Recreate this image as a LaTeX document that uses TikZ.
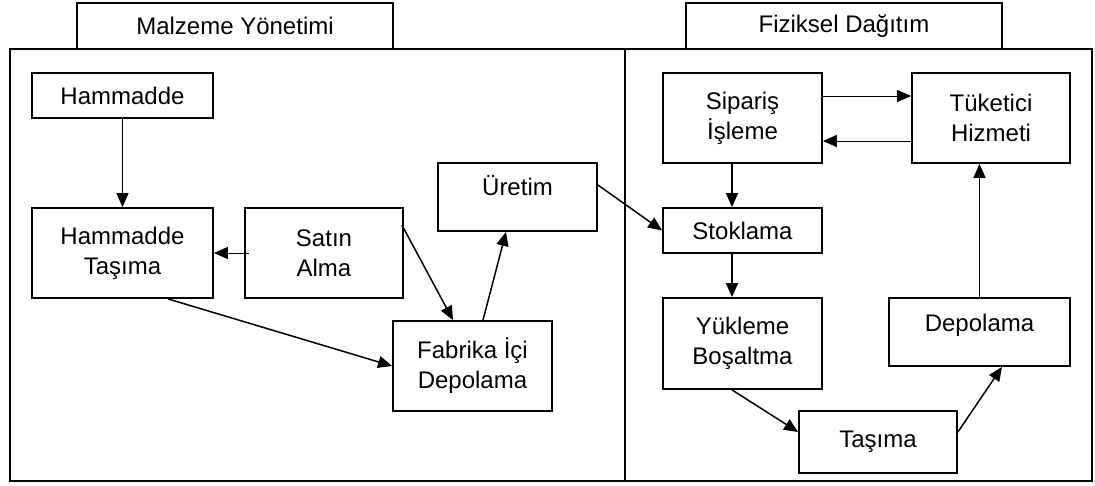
\documentclass[tikz,border=0pt]{standalone}
\usepackage{fontspec}
\setmainfont{Liberation Sans}
\usetikzlibrary{arrows.meta}
\begin{document}
\begin{tikzpicture}[x=1pt,y=-1pt,
  box/.style={draw, line width=1.8pt, rectangle, inner sep=0pt, align=center,
    font=\fontsize{24}{30}\selectfont},
  uptext/.style={text height=17pt, text depth=#1},
  flow/.style={line width=1.5pt, -{Triangle[length=14pt,width=12pt]}},
  thinflow/.style={line width=0.9pt, -{Triangle[length=14pt,width=12pt]}},
]
\useasboundingbox (0,0) rectangle (1095,485);

% frame and the divider between the two areas
\draw[line width=2pt] (10,49) rectangle (1092,481);
\draw[line width=2pt] (625,49) -- (625,481);

% area titles
\node[box, minimum width=316, minimum height=46] (t1) at (235,26) {Malzeme Yönetimi};
\node[box, minimum width=316, minimum height=46] (t2) at (844,26) {Fiziksel Dağıtım};

% material management
\node[box, minimum width=181, minimum height=45] (ham) at (122.5,95.5) {Hammadde};
\node[box, minimum width=181, minimum height=90] (ht)  at (122.5,253) {Hammadde\\Taşıma};
\node[box, minimum width=158, minimum height=90] (sat) at (324,253) {Satın\\Alma};
\node[box, minimum width=159, minimum height=68, uptext=20pt] (ure) at (517.5,197) {Üretim};
\node[box, minimum width=159, minimum height=90] (fab) at (472.5,366) {Fabrika İçi\\Depolama};

% physical distribution
\node[box, minimum width=159, minimum height=90] (sip) at (742.5,118) {Sipariş\\İşleme};
\node[box, minimum width=158, minimum height=90] (tuk) at (991,118) {Tüketici\\Hizmeti};
\node[box, minimum width=159, minimum height=45] (sto) at (742.5,230.5) {Stoklama};
\node[box, minimum width=159, minimum height=91] (yuk) at (742.5,343.5) {Yükleme\\Boşaltma};
\node[box, minimum width=181, minimum height=68, uptext=18pt] (dep) at (979.5,332) {Depolama};
\node[box, minimum width=158, minimum height=62] (tas) at (878,442) {Taşıma};

% connectors
\draw[thinflow] (ham.south) -- (ht.north);
\draw[thinflow] ([xshift=5pt]sat.west) -- (ht.east);
\draw[flow] ([xshift=-2pt,yshift=28pt]sat.east) -- ([xshift=-19.5pt]fab.north);
\draw[flow] ([xshift=10.5pt]fab.north) -- ([xshift=-11.5pt]ure.south);
\draw[flow] ([xshift=45.5pt]ht.south) -- (fab.west);
\draw[flow] ([yshift=12pt]ure.east) -- (sto.west);

\draw[thinflow] ([yshift=22pt]sip.east) -- ([yshift=22pt]tuk.west);
\draw[thinflow] ([yshift=-23pt]tuk.west) -- ([yshift=-23pt]sip.east);
\draw[flow] ([xshift=-10.5pt]sip.south) -- ([xshift=-10.5pt]sto.north);
\draw[flow] ([xshift=-10.5pt]sto.south) -- ([xshift=-10.5pt]yuk.north);
\draw[flow] ([xshift=-10.5pt]yuk.south) -- ([yshift=10pt]tas.west);
\draw[flow] ([yshift=10pt]tas.east) -- ([xshift=22.5pt]dep.south);
\draw[flow] (dep.north) -- (dep.north |- tuk.south);
\end{tikzpicture}
\end{document}
